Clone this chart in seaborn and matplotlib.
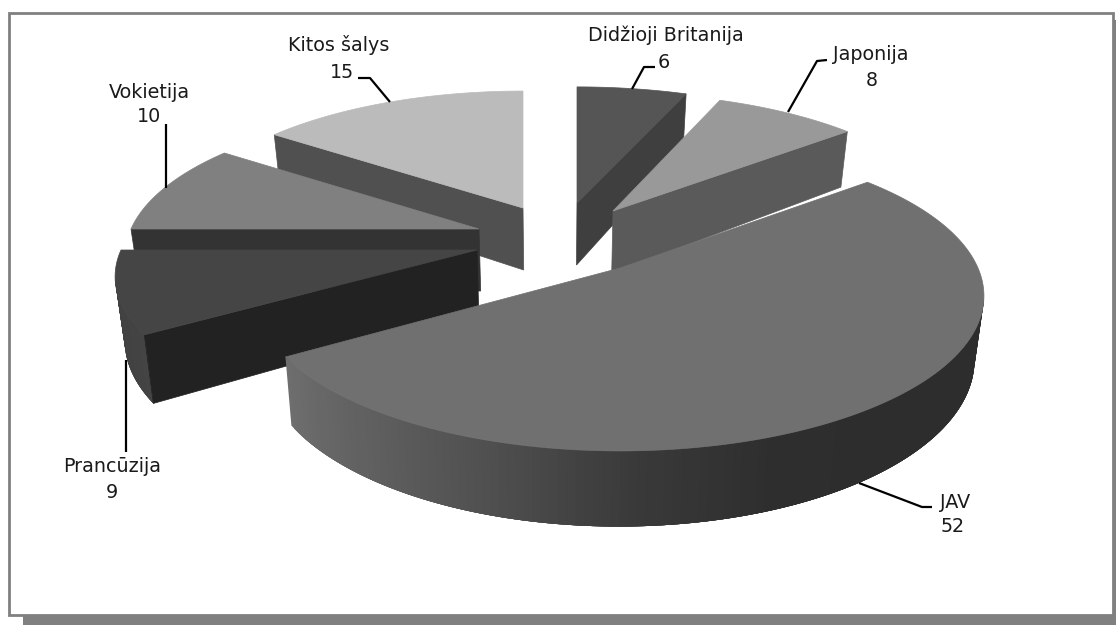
import numpy as np
import matplotlib
matplotlib.use("Agg")
import matplotlib.pyplot as plt
from matplotlib.patches import Polygon, Rectangle
import seaborn as sns

# Values, clockwise from twelve o'clock
countries = ["Didžioji Britanija", "Japonija", "JAV", "Prancūzija", "Vokietija", "Kitos šalys"]
shares = [6, 8, 52, 9, 10, 15]

# Pixel geometry of each exploded slice: apex position and projected radii
apex_x = [577, 613, 620, 477, 479, 523]
apex_y = [203, 211, 268, 250, 229, 208]
radius_x = [346, 339, 358, 356, 348, 340]
radius_y = [137, 139, 150, 143, 143, 138]

top_grey = ["#555555", "#999999", "#707070", "#454545", "#808080", "#bbbbbb"]
face_grey = ["#3f3f3f", "#5a5a5a", "#707070", "#222222", "#333333", "#505050"]
wall_stops = [
    ["#3f3f3f", "#3f3f3f"],
    ["#5a5a5a", "#5a5a5a"],
    ["#6e6e6e", "#606060", "#505050", "#3a3a3a", "#2e2e2e", "#2d2d2d", "#2d2d2d", "#2d2d2d"],
    ["#404040", "#444444"],
    ["#333333", "#333333"],
    ["#505050", "#505050"],
]

PERSPECTIVE = 0.18
DEPTH = 62
# The base of the pie is slightly narrower than its top, about this vertical line
BASE_SHRINK = 0.022
BASE_AXIS_X = 555

# Painter's order, farthest slice first
draw_order = [5, 0, 4, 1, 3, 2]

leader_x = [[655, 644, 632], [827, 817, 788], [859, 922, 932], [126, 126], [166, 166], [358, 370, 390]]
leader_y = [[67, 67, 89], [60, 61, 112], [483, 507, 507], [452, 360], [124, 188], [78, 78, 102]]
name_x = [666, 871, 955, 112, 149, 339]
name_y = [35, 54, 502, 467, 92, 45]
value_x = [664, 872, 953, 112, 149, 342]
value_y = [62, 80, 527, 492, 117, 72]

sns.set_theme(style="white")
plt.rcParams["font.family"] = ["DejaVu Sans"]

fig = plt.figure(figsize=(11.16, 6.25), dpi=100)
ax = fig.add_axes([0, 0, 1, 1])
ax.set_xlim(0, 1116)
ax.set_ylim(625, 0)
ax.axis("off")

# Chart frame with a drop shadow
ax.add_patch(Rectangle((23, 20), 1093, 605, facecolor="#808080", edgecolor="none", zorder=0))
ax.add_patch(Rectangle((8.5, 12.5), 1104, 602.5, facecolor="white", edgecolor="#808080", linewidth=2, zorder=1))


def rim(i, theta):
    """Project rim angles (radians) of slice i to pixels; also return perspective scale."""
    s = 1.0 / (1.0 + PERSPECTIVE * np.sin(theta))
    return (apex_x[i] + radius_x[i] * np.cos(theta) * s,
            apex_y[i] - radius_y[i] * np.sin(theta) * s,
            s)


def base(x, y, s):
    """Drop a top-surface point to the base of the pie."""
    return BASE_AXIS_X + (x - BASE_AXIS_X) * (1 - BASE_SHRINK), y + DEPTH * s


z = 2
fractions = np.cumsum([0] + shares) / np.sum(shares)
angles = np.pi / 2 - 2 * np.pi * fractions

for i in draw_order:
    hi, lo = angles[i], angles[i + 1]
    arc = np.linspace(lo, hi, 160)
    x, y, s = rim(i, arc)

    # Outer wall in overlapping strips, so the shading runs along it without seams
    idx = np.where(np.sin(arc) < -PERSPECTIVE)[0]
    if len(idx) > 1:
        ramp = sns.blend_palette(wall_stops[i], len(idx))
        bx, by = base(x, y, s)
        for n in range(len(idx) - 1):
            seg = idx[n:n + 6]
            strip = np.column_stack([np.r_[x[seg], bx[seg][::-1]], np.r_[y[seg], by[seg][::-1]]])
            ax.add_patch(Polygon(strip, facecolor=ramp[n], edgecolor="none", zorder=z))
        z += 1

    # Cut face on whichever straight edge turns toward the viewer
    for theta, visible in ((hi, np.cos(hi) < 0), (lo, np.cos(lo) > 0)):
        if visible:
            fx, fy, fs = rim(i, theta)
            fbx, fby = base(fx, fy, fs)
            abx, aby = base(apex_x[i], apex_y[i], 1.0)
            quad = [(apex_x[i], apex_y[i]), (fx, fy), (fbx, fby), (abx, aby)]
            ax.add_patch(Polygon(quad, facecolor=face_grey[i], edgecolor=face_grey[i], linewidth=0.5, zorder=z))
            z += 1

    # Top surface
    outline = np.column_stack([np.r_[apex_x[i], x], np.r_[apex_y[i], y]])
    ax.add_patch(Polygon(outline, facecolor=top_grey[i], edgecolor=top_grey[i], linewidth=0.5, zorder=z))
    z += 1

# Leader lines and two-line labels
for i, name in enumerate(countries):
    ax.plot(leader_x[i], leader_y[i], color="black", linewidth=1.6, zorder=z, solid_capstyle="butt")
    ax.text(name_x[i], name_y[i], name, ha="center", va="center", fontsize=13.8, color="#1a1a1a", zorder=z)
    ax.text(value_x[i], value_y[i], str(shares[i]), ha="center", va="center", fontsize=13.8, color="#1a1a1a", zorder=z)

fig.savefig("out.png", dpi=100, facecolor="white")
